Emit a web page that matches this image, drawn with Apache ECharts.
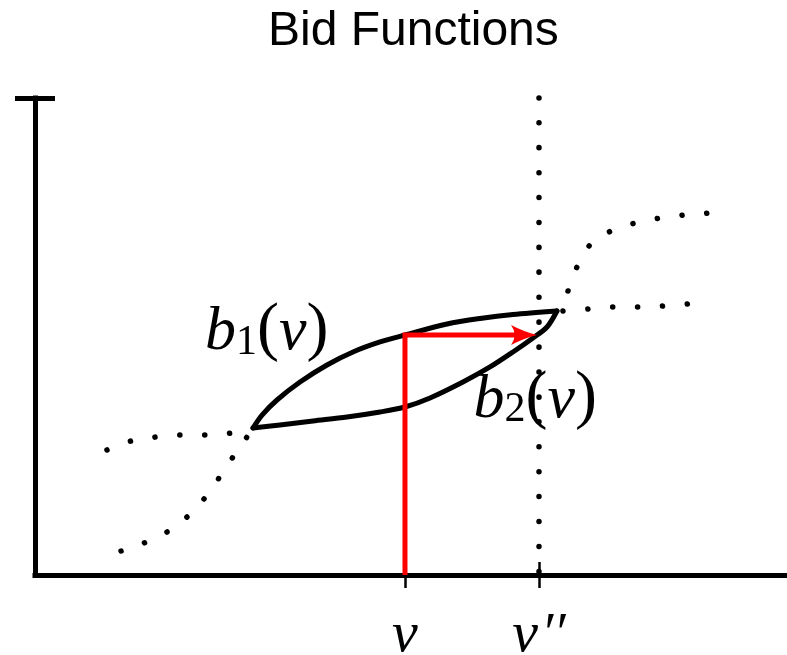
<!DOCTYPE html>
<html>
<head>
<meta charset="utf-8">
<script src="https://cdn.jsdelivr.net/npm/echarts@6/dist/echarts.min.js"></script>
<style>
  html, body { margin: 0; padding: 0; background: #fff; }
  #chart { width: 787px; height: 655px; }
</style>
</head>
<body>
<div id="chart"></div>
<script>
// ---- data (value units: x and y both run 0..100) ----
const titleText = 'Bid Functions';

// tick positions on the value axis and their labels
const tickValues = [49.2, 67.02];
const tickLabels = ['v', 'v2'];   // second one is drawn as v''

// upper bid curve b1(v)
const bidOne = [
  [28.99, 30.82], [30.19, 33.54], [32.18, 36.69], [35.24, 40.46],
  [38.83, 44.03], [42.29, 46.75], [45.88, 48.85], [49.20, 50.31],
  [54.79, 52.62], [59.18, 53.77], [63.56, 54.61], [69.41, 55.35]
];

// lower bid curve b2(v)
const bidTwo = [
  [28.99, 30.82], [32.58, 31.45], [36.97, 32.29], [41.49, 33.12],
  [45.88, 34.17], [49.20, 35.22], [52.53, 37.11], [56.91, 40.46],
  [60.51, 43.61], [63.56, 46.75], [66.22, 49.69], [68.09, 51.99],
  [69.41, 55.35]
];

// dotted continuations
const lowFlat = [
  [9.57, 26.21], [12.77, 28.09], [16.09, 28.93], [19.55, 29.35],
  [22.87, 29.35], [26.20, 29.77], [28.99, 30.61]
];
const lowRise = [
  [11.44, 5.03], [14.49, 6.71], [17.55, 9.01], [20.21, 12.16],
  [22.47, 15.93], [24.47, 20.34], [26.33, 24.74], [28.19, 28.93],
  [28.99, 30.82]
];
const highFlat = [
  [70.21, 55.35], [73.54, 55.77], [76.86, 56.18], [80.19, 56.18],
  [83.51, 56.39], [86.84, 56.81]
];
const highRise = [
  [70.88, 59.54], [72.07, 64.57], [73.80, 69.18], [76.60, 72.12],
  [79.79, 73.79], [83.11, 74.84], [86.44, 75.47], [89.63, 75.89]
];

// value v'' marked by the vertical dotted guide
const guideX = 67.02;

// red path: up from v to b1(v), then across to b2
const redPath = [[49.2, 0], [49.2, 50.31], [64.6, 50.31]];
const arrowTip = [66.76, 50.31];

// ---- chart ----
const chart = echarts.init(document.getElementById('chart'), null, { renderer: 'canvas' });

const mathFont = 'Liberation Serif';
const dotStyle = { color: '#000', width: 5.5, type: [0.1, 24.8], cap: 'round' };

function dotted(data) {
  return {
    type: 'line', data: data, smooth: 0.3, symbol: 'none', clip: false,
    lineStyle: dotStyle, silent: true, z: 2
  };
}

const tickRich = {
  i: { fontFamily: mathFont, fontStyle: 'italic', fontSize: 58, lineHeight: 60, color: '#000', verticalAlign: 'bottom' },
  p: { fontFamily: mathFont, fontStyle: 'italic', fontSize: 56, lineHeight: 60, color: '#000', verticalAlign: 'bottom', padding: [0, 0, 0, 3] }
};

const curveRich = {
  m: { fontFamily: mathFont, fontStyle: 'italic', fontSize: 62, lineHeight: 70, color: '#000', verticalAlign: 'bottom' },
  s: { fontFamily: mathFont, fontSize: 42, lineHeight: 42, color: '#000', verticalAlign: 'bottom' },
  u: { fontFamily: mathFont, fontSize: 66, lineHeight: 72, color: '#000', verticalAlign: 'bottom' }
};

function tickText(val) {
  for (let k = 0; k < tickValues.length; k++) {
    if (Math.abs(val - tickValues[k]) < 0.01) {
      return tickLabels[k] === 'v2' ? '{i|v}{p|\u2032\u2032}' : '{i|' + tickLabels[k] + '}';
    }
  }
  return '';
}

const option = {
  animation: false,
  backgroundColor: '#fff',
  title: {
    text: titleText,
    left: 268, top: 8, padding: 0,
    textStyle: { fontFamily: 'Liberation Sans', fontSize: 48, fontWeight: 'normal', color: '#000' }
  },
  grid: { left: 35, top: 98, width: 752, height: 477, outerBoundsMode: 'none', containLabel: false },
  xAxis: [
    {
      type: 'value', min: 0, max: 100,
      axisLine: { show: true, lineStyle: { color: '#000', width: 5, cap: 'square' } },
      axisTick: { show: true, customValues: tickValues, length: 13, lineStyle: { color: '#000', width: 2.5 } },
      axisLabel: { show: true, customValues: tickValues, margin: 30, color: '#000', formatter: tickText, rich: tickRich },
      splitLine: { show: false }
    },
    {
      type: 'value', min: 0, max: 100, position: 'bottom',
      axisLine: { show: false },
      axisTick: { show: true, inside: true, customValues: tickValues, length: 13, lineStyle: { color: '#000', width: 2.5 } },
      axisLabel: { show: false },
      splitLine: { show: false }
    }
  ],
  yAxis: [
    {
      type: 'value', min: 0, max: 100, position: 'left',
      axisLine: { show: true, lineStyle: { color: '#000', width: 5, cap: 'square' } },
      axisTick: { show: true, customValues: [100], length: 20, lineStyle: { color: '#000', width: 5 } },
      axisLabel: { show: false },
      splitLine: { show: false }
    },
    {
      type: 'value', min: 0, max: 100, position: 'left',
      axisLine: { show: false },
      axisTick: { show: true, inside: true, customValues: [100], length: 20, lineStyle: { color: '#000', width: 5 } },
      axisLabel: { show: false },
      splitLine: { show: false }
    }
  ],
  series: [
    dotted(lowFlat),
    dotted(lowRise),
    dotted(highFlat),
    dotted(highRise),
    dotted([[guideX, 100], [guideX, 0]]),
    {
      name: 'b1', type: 'line', data: bidOne, smooth: 0.3, symbol: 'none', clip: false,
      lineStyle: { color: '#000', width: 5, cap: 'round', join: 'round' }, z: 3
    },
    {
      name: 'b2', type: 'line', data: bidTwo, smooth: 0.3, symbol: 'none', clip: false,
      lineStyle: { color: '#000', width: 5, cap: 'round', join: 'round' }, z: 3
    },
    {
      type: 'line', data: redPath, symbol: 'none', clip: false,
      lineStyle: { color: '#ff0000', width: 5, join: 'miter' }, z: 4
    },
    {
      type: 'scatter', data: [arrowTip], clip: false, z: 4,
      symbol: 'path://M25,10 Q13,7 0,0 Q7,10 0,20 Q13,13 25,10 Z',
      symbolSize: [26, 20], symbolKeepAspect: false, symbolOffset: [-13, 0],
      itemStyle: { color: '#ff0000', opacity: 1 }
    },
    {
      type: 'scatter', symbolSize: 0, clip: false, z: 5,
      itemStyle: { opacity: 1 },
      label: {
        show: true, position: [0, 0], align: 'left', verticalAlign: 'bottom',
        color: '#000', textBorderWidth: 0,
        formatter: function (p) { return p.name; }, rich: curveRich
      },
      data: [
        { name: '{m|b}{s|1}{u|(}{m|v}{u|)}', value: [22.6, 44.2] },
        { name: '{m|b}{s|2}{u|(}{m|v}{u|)}', value: [58.3, 30.1] }
      ]
    }
  ]
};

chart.setOption(option);
</script>
</body>
</html>
